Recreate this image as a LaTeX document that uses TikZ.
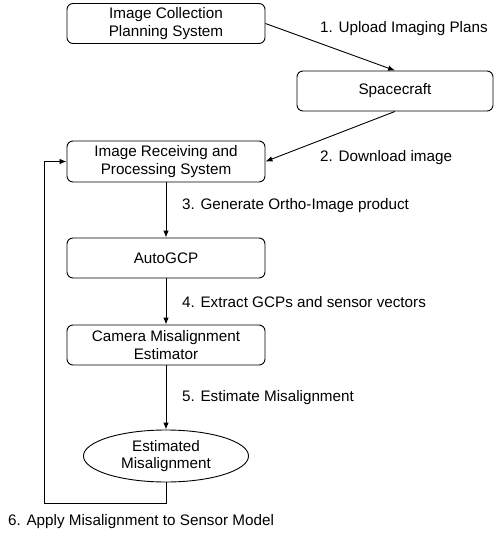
\documentclass[tikz,border=0pt]{standalone}
\usepackage{fontspec}
\setmainfont{Liberation Sans}
\usetikzlibrary{arrows.meta,shapes.geometric}
\begin{document}
\begin{tikzpicture}[x=1bp,y=-1bp,
  every node/.style={font=\fontsize{15.3}{17.6}\selectfont},
  procbox/.style={draw, line width=0.9bp, rounded corners=6bp, minimum width=198bp, minimum height=40bp, align=center, inner sep=0pt},
  ovalbox/.style={draw, ellipse, line width=0.9bp, minimum width=165bp, minimum height=52bp, align=center, inner sep=0pt},
  steplabel/.style={anchor=west, inner sep=0pt},
  conn/.style={line width=0.9bp, -{Latex[length=7bp,width=5.5bp]}}]
\useasboundingbox (0,0) rectangle (501,540);
\node[procbox] (plan) at (166,23.5) {Image Collection\\Planning System};
\node[procbox, minimum width=196bp] (sc) at (395,91) {Spacecraft};
\node[procbox, minimum height=41bp] (recv) at (166,161.5) {Image Receiving and\\Processing System};
\node[procbox] (gcp) at (166,258) {AutoGCP};
\node[procbox] (cam) at (166,345) {Camera Misalignment\\Estimator};
\node[ovalbox] (est) at (166,456) {Estimated\\Misalignment};
\coordinate (fb) at (44,503);
\draw[conn] (plan.east) -- (sc.north);
\draw[conn] (sc.south) -- (recv.east);
\draw[conn] (recv.south) -- (gcp.north);
\draw[conn] (gcp.south) -- (cam.north);
\draw[conn] (cam.south) -- (est.north);
\draw[conn] (est.south) |- (fb) |- (recv.west);
\node[steplabel] (l1) at (320,29) {1. Upload Imaging Plans};
\node[steplabel] (l2) at (320,158) {2. Download image};
\node[steplabel] (l3) at (182,206) {3. Generate Ortho-Image product};
\node[steplabel] (l4) at (182,302) {4. Extract GCPs and sensor vectors};
\node[steplabel] (l5) at (182,398) {5. Estimate Misalignment};
\node[steplabel] (l6) at (8,522) {6. Apply Misalignment to Sensor Model};
\end{tikzpicture}
\end{document}
